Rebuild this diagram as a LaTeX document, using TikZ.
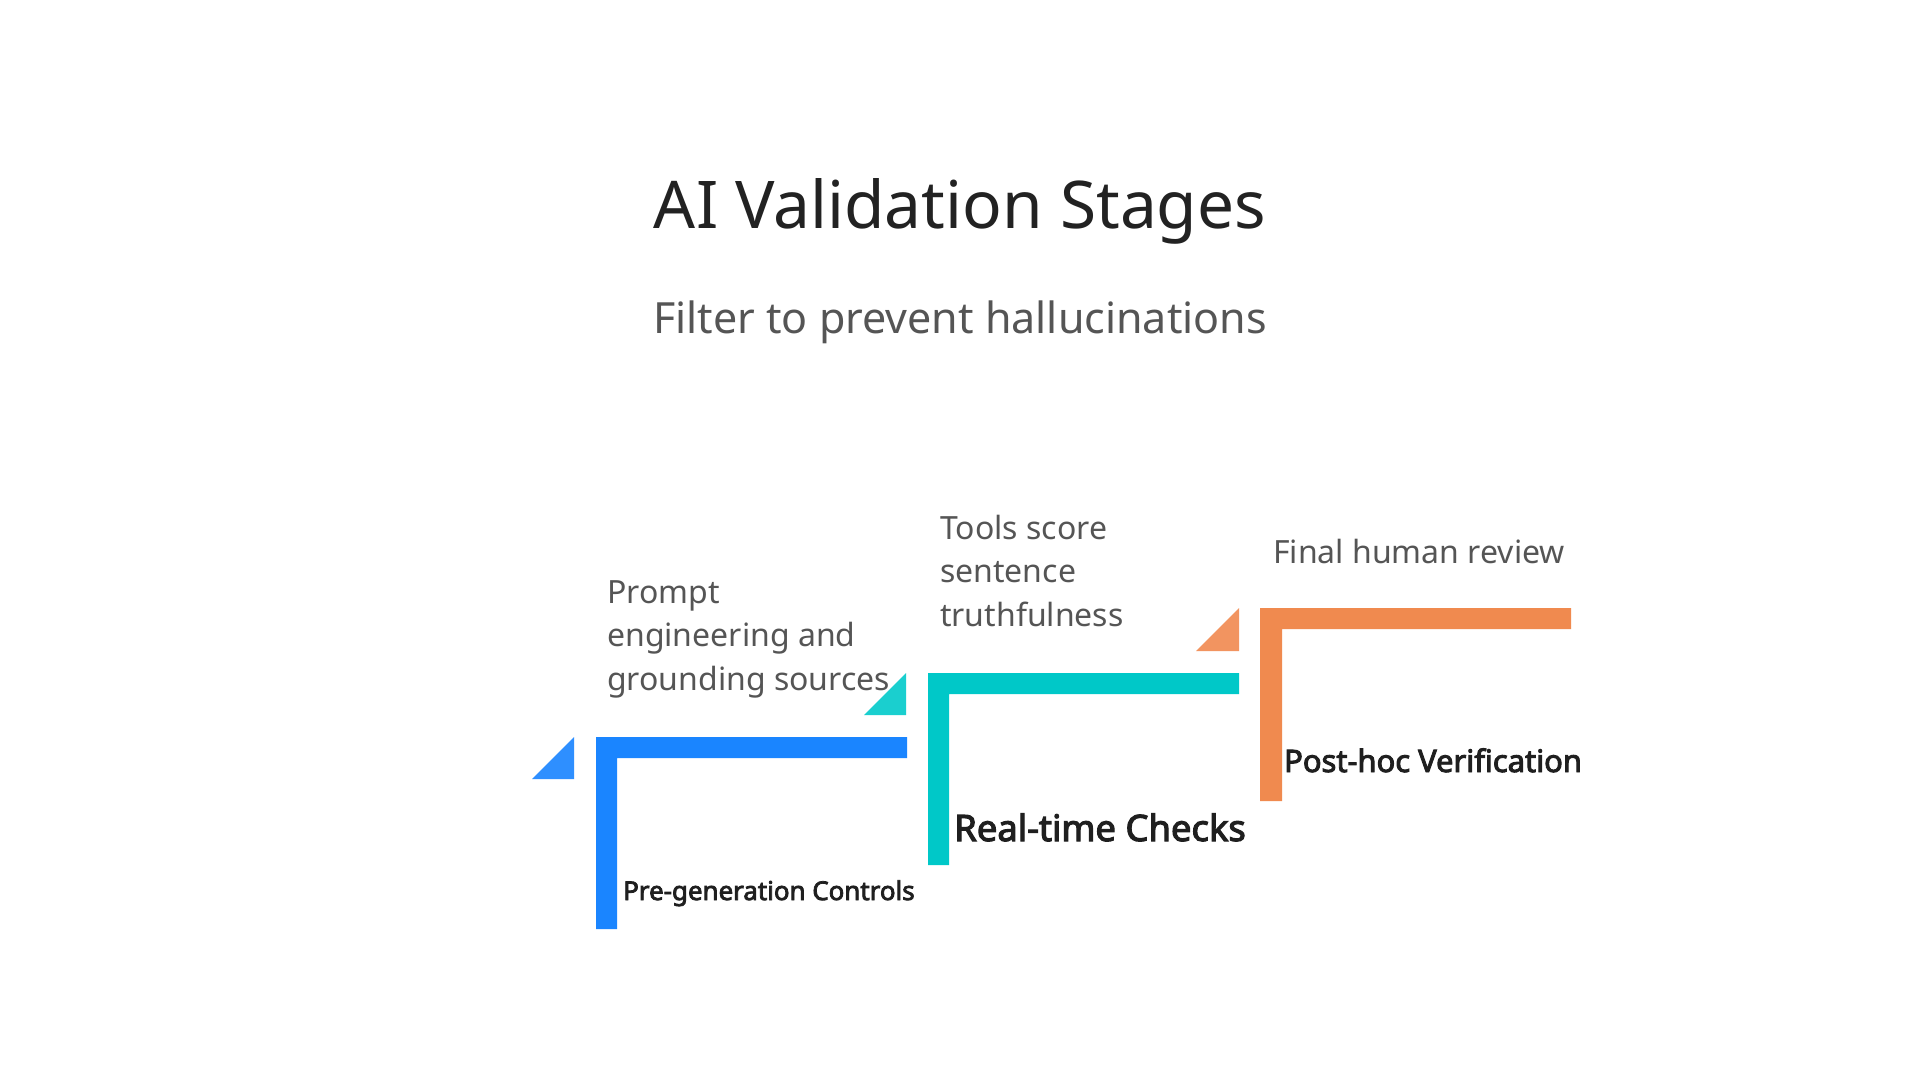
\documentclass[tikz,border=0pt]{standalone}
\usepackage{fontspec}
\setmainfont{Noto Sans}
\newfontfamily\labelfont{Noto Sans}[FakeBold=3]
\definecolor{bluemain}{HTML}{1A85FF}
\definecolor{bluetri}{HTML}{2E8FFF}
\definecolor{tealmain}{HTML}{00C8C8}
\definecolor{tealtri}{HTML}{1ACFCF}
\definecolor{orangemain}{HTML}{F08A4F}
\definecolor{orangetri}{HTML}{F29460}
\definecolor{titledark}{HTML}{222222}
\definecolor{descgray}{HTML}{555555}
\definecolor{labeldark}{HTML}{1F1F1F}
\begin{document}
\begin{tikzpicture}[x=1pt,y=-1pt,
  titletext/.style={anchor=base, inner sep=0, text=titledark, font=\fontsize{65.8}{70}\selectfont},
  subtext/.style={anchor=base, inner sep=0, text=descgray, font=\fontsize{43}{48}\selectfont},
  desc/.style={anchor=base west, inner sep=0, text=descgray, font=\fontsize{32}{43.5}\selectfont},
  steplabel/.style={anchor=base west, inner sep=0, text=labeldark}]
\fill[white] (0,0) rectangle (1920,1080);
\useasboundingbox (0,0) rectangle (1920,1080);

\node[titletext] (title) at (960,228) {AI Validation Stages};
\node[subtext] (subtitle) at (960,333) {Filter to prevent hallucinations};

% blue stage
\fill[bluemain] (596,737) -- (907,737) -- (907,758) -- (617,758) -- (617,929) -- (596,929) -- cycle;
\fill[bluetri] (532,779) -- (574,737) -- (574,779) -- cycle;
% teal stage
\fill[tealmain] (928,673) -- (1239,673) -- (1239,694) -- (949,694) -- (949,865) -- (928,865) -- cycle;
\fill[tealtri] (864,715) -- (906,673) -- (906,715) -- cycle;
% orange stage
\fill[orangemain] (1260,608) -- (1571,608) -- (1571,629) -- (1282,629) -- (1282,801) -- (1260,801) -- cycle;
\fill[orangetri] (1196,651) -- (1239,608) -- (1239,651) -- cycle;

\node[desc] (d1) at (607,603) {\parbox[t]{340pt}{\raggedright Prompt\\engineering and\\grounding sources}};
\node[desc] (d2) at (940,539) {\parbox[t]{340pt}{\raggedright Tools score\\sentence\\truthfulness}};
\node[desc] (d3) at (1273,563) {Final human review};

\node[steplabel, font=\labelfont\fontsize{25.9}{28}\selectfont] (l1) at (623,900) {Pre-generation Controls};
\node[steplabel, font=\labelfont\fontsize{36.4}{40}\selectfont] (l2) at (954,841) {Real-time Checks};
\node[steplabel, font=\labelfont\fontsize{30.9}{32}\selectfont] (l3) at (1284,772) {Post-hoc Verification};
\end{tikzpicture}
\end{document}
